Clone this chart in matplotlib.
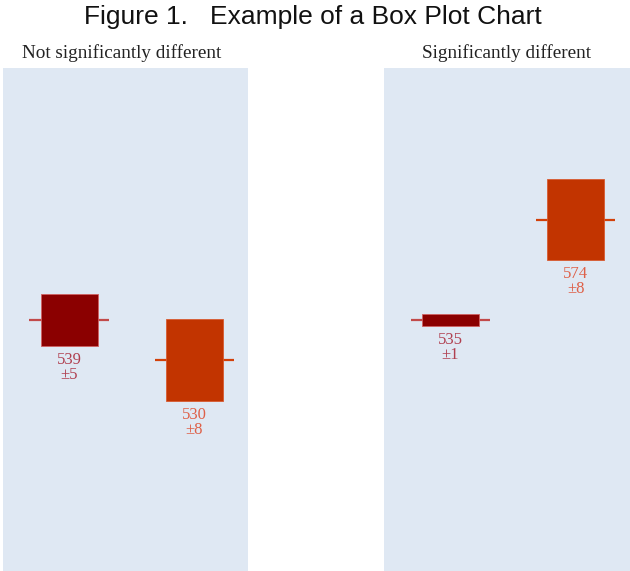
import matplotlib
matplotlib.use("Agg")
import matplotlib.pyplot as plt
from matplotlib.patches import Rectangle

# ---- data ----
title = "Figure 1.   Example of a Box Plot Chart"
groups = ["Not significantly different", "Significantly different"]
means = [[539, 530], [535, 574]]
errors = [[5, 8], [1, 8]]
box_lo = [[533.2, 520.8], [532.7, 558.4]]
box_hi = [[544.9, 539.2], [537.3, 590.0]]

# ---- styles ----
ylims = [(482.5, 595.7), (437.1, 633.3)]
box_colors = ["#8b0000", "#c23400"]
whisker_colors = ["#c24a4a", "#d2400a"]
text_colors = ["#b04050", "#de6048"]
bg = "#dfe8f3"
xpos = [1, 2]
box_w = 0.456
whisk_w = 0.632

fig = plt.figure(figsize=(6.3, 5.71), dpi=100)
fig.text(313 / 630, 1 - 17 / 571, title, ha="center", va="center",
         fontsize=19, family="Liberation Sans", color="#111111")

panel_left = [3 / 630, 384 / 630]
panel_w = [245 / 630, 246 / 630]
sub_x = [121.5 / 630, 506 / 630]
for p in range(2):
    ax = fig.add_axes([panel_left[p], 0, panel_w[p], 503 / 571])
    ax.set_facecolor(bg)
    for s in ax.spines.values():
        s.set_visible(False)
    ax.set_xticks([])
    ax.set_yticks([])
    ax.set_xlim(1 - 66 / 125, 2 + 54 / 125)
    ax.set_ylim(*ylims[p])
    for i in range(2):
        x = xpos[i]
        ax.hlines(means[p][i], x - whisk_w / 2, x + whisk_w / 2,
                  color=whisker_colors[i], lw=1.6, zorder=2)
        ax.add_patch(Rectangle((x - box_w / 2, box_lo[p][i]), box_w,
                               box_hi[p][i] - box_lo[p][i],
                               facecolor=box_colors[i], edgecolor="#d06060" if i == 0 else "#d85a30",
                               lw=0.6, zorder=3))
        ax.annotate(f"{means[p][i]}\n\u00b1{errors[p][i]}", (x, box_lo[p][i]),
                    xytext=(0, -4.5), textcoords="offset points",
                    ha="center", va="top", fontsize=12, family="Liberation Serif",
                    color=text_colors[i], linespacing=0.88)
    fig.text(sub_x[p], 1 - 53 / 571, groups[p], ha="center", va="center",
             fontsize=13.8, family="Liberation Serif", color="#222222")

fig.savefig("out.png", dpi=100)
